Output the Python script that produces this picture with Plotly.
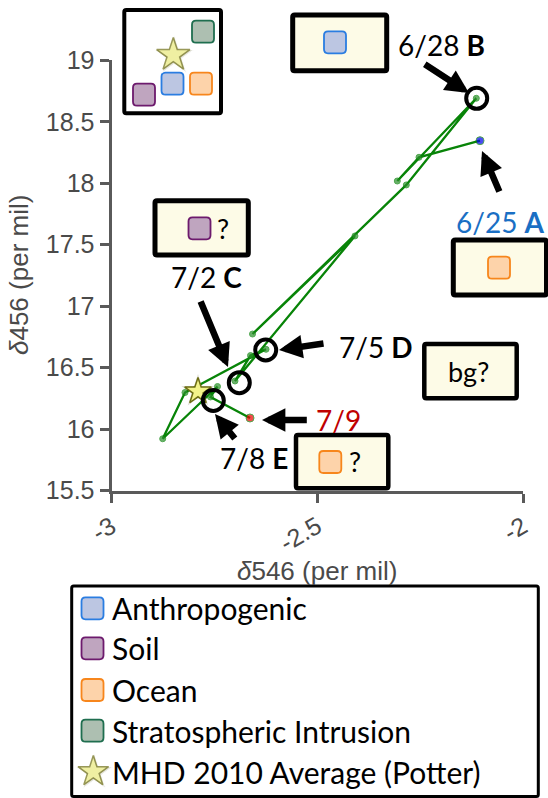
import plotly.graph_objects as go

W, H = 548, 798

# ---- data (path order of the daily points) ----
d546 = [-2.1045, -2.2527, -2.3055, -2.1135, -2.2836, -2.6573, -2.4083, -2.6999,
        -2.6622, -2.6245, -2.8214, -2.8756, -2.7424, -2.7594, -2.6634]
d456 = [18.346, 18.211, 18.018, 18.691, 17.986, 16.773, 17.571, 16.391,
        16.598, 16.649, 16.297, 15.921, 16.346, 16.261, 16.090]
mhd_546 = [-2.7898]
mhd_456 = [16.306]

x_tickvals = [-3, -2.5, -2]
x_ticktext = ["-3", "-2.5", "-2"]
y_tickvals = [15.5, 16, 16.5, 17, 17.5, 18, 18.5, 19]
y_ticktext = ["15.5", "16", "16.5", "17", "17.5", "18", "18.5", "19"]

legend_labels = ["Anthropogenic", "Soil", "Ocean", "Stratospheric Intrusion",
                 "MHD 2010 Average (Potter)"]

# ---- styles ----
SRC = {
    "anthro": ("#bcc6e2", "#2a7de1"),
    "soil": ("#bfa5bf", "#6d1a6d"),
    "ocean": ("#fdd3aa", "#f7861c"),
    "strat": ("#adbfb1", "#1f6e4f"),
}
CREAM = "#fdfbe7"
STAR_FILL = "#f3f38a"
STAR_LINE = "#6e6e14"
TXT = "Lato"
AX = "Liberation Sans"
GRAY = "#4a4a4a"

n = len(d546)
mcolors = ["#0000ee"] + ["#2b8f2b"] * (n - 2) + ["#ee0000"]
msizes = [8] + [6] * (n - 2) + [8]

fig = go.Figure()
fig.add_trace(go.Scatter(x=d546, y=d456, mode="lines+markers",
                         line=dict(color="#088408", width=2.3),
                         marker=dict(size=msizes, color=mcolors),
                         cliponaxis=False, hoverinfo="skip"))
# star shadow + star
fig.add_trace(go.Scatter(x=mhd_546, y=mhd_456, mode="markers",
                         marker=dict(symbol="star", size=25, color="rgba(60,60,0,0.18)"),
                         cliponaxis=False, hoverinfo="skip"))
fig.add_trace(go.Scatter(x=mhd_546, y=mhd_456, mode="markers",
                         marker=dict(symbol="star", size=20, color=STAR_FILL,
                                     line=dict(color=STAR_LINE, width=1.5)),
                         cliponaxis=False, hoverinfo="skip"))

# overlay pixel-space stars (inset and legend)
star_px = [(173.3, 55), (93.3, 771.7)]
star_sz = [25, 23]
fig.add_trace(go.Scatter(x=[p[0] + 1 for p in star_px], y=[p[1] + 1 for p in star_px],
                         mode="markers", xaxis="x2", yaxis="y2",
                         marker=dict(symbol="star", size=[s + 5 for s in star_sz],
                                     color="rgba(60,60,0,0.18)"),
                         hoverinfo="skip"))
fig.add_trace(go.Scatter(x=[p[0] for p in star_px], y=[p[1] for p in star_px],
                         mode="markers", xaxis="x2", yaxis="y2",
                         marker=dict(symbol="star", size=star_sz, color=STAR_FILL,
                                     line=dict(color=STAR_LINE, width=1.5)),
                         hoverinfo="skip"))


def rr(x0, y0, x1, y1, r):
    return (f"M{x0+r},{y0} L{x1-r},{y0} Q{x1},{y0} {x1},{y0+r} L{x1},{y1-r} "
            f"Q{x1},{y1} {x1-r},{y1} L{x0+r},{y1} Q{x0},{y1} {x0},{y1-r} "
            f"L{x0},{y0+r} Q{x0},{y0} {x0+r},{y0} Z")


shapes = []


def box(x0, y0, x1, y1, fill, lw):
    shapes.append(dict(type="path", path=rr(x0, y0, x1, y1, 2), xref="x2", yref="y2",
                       fillcolor=fill, line=dict(color="black", width=lw), layer="below"))


def sq(cx, cy, key, s=22):
    f, l = SRC[key]
    h = s / 2
    shapes.append(dict(type="path", path=rr(cx - h, cy - h, cx + h, cy + h, 4),
                       xref="x2", yref="y2", fillcolor=f,
                       line=dict(color=l, width=1.8), layer="below"))


def ring(cx, cy, r=10.5):
    shapes.append(dict(type="circle", x0=cx - r, x1=cx + r, y0=cy - r, y1=cy + r,
                       xref="x2", yref="y2", line=dict(color="black", width=4),
                       layer="below"))


# inset (top-left)
box(124.3, 10, 221, 113.3, "white", 4)
sq(203, 31.7, "strat")
sq(172.5, 83.7, "anthro")
sq(201, 83.7, "ocean")
sq(144, 94.7, "soil")
# annotation boxes
box(292.7, 15, 386.7, 70.7, CREAM, 5)
sq(335, 42.3, "anthro")
box(155, 200.7, 248.3, 255, CREAM, 5)
sq(199.5, 228.3, "soil")
box(453.3, 240, 546.5, 295, CREAM, 5)
sq(499, 267.7, "ocean")
box(424.3, 344, 516.7, 398.3, CREAM, 4.5)
box(296, 435, 388.3, 488.3, CREAM, 4.5)
sq(330.3, 462, "ocean")
# rings
ring(476.7, 98.3)
ring(239.3, 382.7)
ring(265.7, 350)
ring(213.3, 400.5)
# legend
box(71.7, 586, 538.3, 796.5, "white", 3)
leg_y = [608.3, 648.3, 690, 730.7, 771.7]
for key, yy in zip(["anthro", "soil", "ocean", "strat"], leg_y):
    sq(92.5, yy, key)

ann = []


def txt(x, y, s, size=28, color="black", anchor="center", fam=TXT, angle=0):
    ann.append(dict(x=x, y=y, xref="x2", yref="y2", text=s, showarrow=False,
                    xanchor=anchor, yanchor="middle", textangle=angle,
                    font=dict(family=fam, size=size, color=color)))


def arrow(tx, ty, hx, hy):
    ann.append(dict(x=hx, y=hy, ax=tx, ay=ty, xref="x2", yref="y2", axref="x2",
                    ayref="y2", text="", showarrow=True, arrowhead=2, arrowsize=0.72,
                    arrowwidth=6.5, arrowcolor="black", standoff=0))


txt(441, 45, "6/28 <b>B</b>")
txt(500, 221.7, "6/25 <b>A</b>", color="#1a6fc4")
txt(206, 277, "7/2 <b>C</b>")
txt(376, 347, "7/5 <b>D</b>")
txt(338, 420, "7/9", color="#c00000")
txt(254, 458, "7/8 <b>E</b>")
txt(468.3, 371.5, "bg?", size=27)
txt(223.3, 228.3, "?", size=27)
txt(355, 461.7, "?", size=27)

arrow(423.3, 63.3, 469, 93)
arrow(500, 193, 482, 151)
arrow(200, 300, 228, 367)
arrow(325, 343.3, 279, 350)
arrow(308.3, 420, 262, 420)
arrow(236, 440, 215, 414)

for lab, yy in zip(legend_labels, leg_y):
    txt(110, yy, lab, size=30, anchor="left")

txt(317, 571, "<i>δ</i>546 (per mil)", size=26, color=GRAY, fam=AX)
txt(19, 275, "<i>δ</i>456 (per mil)", size=26, color=GRAY, fam=AX, angle=-90)

axcommon = dict(showline=True, linecolor="#5a5a5a", linewidth=3, ticks="outside",
                ticklen=9, tickwidth=3, tickcolor="#5a5a5a", showgrid=False,
                zeroline=False, automargin=False, fixedrange=True,
                tickfont=dict(family=AX, size=25, color=GRAY))

fig.update_layout(
    width=W, height=H, margin=dict(l=0, r=0, t=0, b=0),
    paper_bgcolor="white", plot_bgcolor="rgba(0,0,0,0)", showlegend=False,
    xaxis=dict(domain=[111.5 / W, 523 / W], range=[-3, -2], tickvals=x_tickvals,
               ticktext=x_ticktext, tickangle=-30, anchor="y", **axcommon),
    yaxis=dict(domain=[(H - 490.5) / H, (H - 60.3) / H], range=[15.5, 19],
               tickvals=y_tickvals, ticktext=y_ticktext, anchor="x", **axcommon),
    xaxis2=dict(domain=[0, 1], range=[0, W], visible=False, anchor="y2", fixedrange=True),
    yaxis2=dict(domain=[0, 1], range=[H, 0], visible=False, anchor="x2", fixedrange=True),
    shapes=shapes, annotations=ann,
)

fig.write_html("out.html")
